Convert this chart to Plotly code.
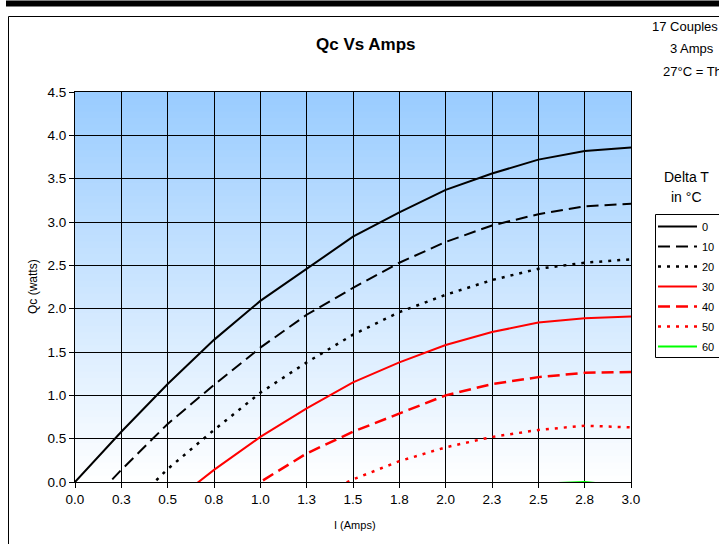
import plotly.graph_objects as go

# ---------------- data ----------------
amps = [0.0, 0.25, 0.5, 0.75, 1.0, 1.25, 1.5, 1.75, 2.0, 2.25, 2.5, 2.75, 3.0]
amp_tick_labels = ["0.0", "0.3", "0.5", "0.8", "1.0", "1.3", "1.5", "1.8",
                   "2.0", "2.3", "2.5", "2.8", "3.0"]

qc_dt0 = [0.00, 0.58, 1.13, 1.64, 2.09, 2.46, 2.83, 3.11, 3.37, 3.56, 3.72, 3.82, 3.86]
qc_dt10 = [-0.42, 0.14, 0.67, 1.12, 1.55, 1.93, 2.24, 2.53, 2.77, 2.96, 3.09, 3.18, 3.21]
qc_dt20 = [-0.95, -0.38, 0.15, 0.60, 1.03, 1.38, 1.70, 1.96, 2.16, 2.33, 2.46, 2.53, 2.57]
qc_dt30 = [-1.30, -0.75, -0.28, 0.14, 0.52, 0.85, 1.15, 1.38, 1.58, 1.73, 1.84, 1.89, 1.91]
qc_dt40 = [-1.90, -1.30, -0.80, -0.38, 0.00, 0.33, 0.58, 0.79, 1.00, 1.13, 1.21, 1.26, 1.27]
qc_dt50 = [-2.50, -1.90, -1.35, -0.90, -0.50, -0.22, 0.03, 0.24, 0.40, 0.52, 0.60, 0.65, 0.63]
qc_dt60 = [-3.10, -2.50, -1.95, -1.45, -1.05, -0.75, -0.50, -0.30, -0.15, -0.06, -0.02, 0.00, -0.05]

series_names = ["0", "10", "20", "30", "40", "50", "60"]
series_values = [qc_dt0, qc_dt10, qc_dt20, qc_dt30, qc_dt40, qc_dt50, qc_dt60]

# ---------------- layout geometry ----------------
W, H = 719, 544
L, R, T, B = 75, 88, 92, 62
PW, PH = W - L - R, H - T - B


def px(x):
    return (x - L) / PW


def py(y):
    return (H - B - y) / PH


FONT = "Liberation Sans, Arial, sans-serif"

styles = [
    dict(color="black", width=2, dash="solid"),
    dict(color="black", width=2, dash="12px,6px"),
    dict(color="black", width=2.5, dash="3px,6px"),
    dict(color="#FF0000", width=2, dash="solid"),
    dict(color="#FF0000", width=2.5, dash="12px,6px"),
    dict(color="#FF0000", width=2.5, dash="3px,6px"),
    dict(color="#00FF00", width=2, dash="solid"),
]

fig = go.Figure()
for name, vals, st in zip(series_names, series_values, styles):
    fig.add_trace(go.Scatter(x=amps, y=vals, mode="lines", name=name,
                             legendgroup=name, line=st, hoverinfo="x+y+name"))

# gradient background of plot area (light blue top -> white bottom)
shapes = []
n = 60
top = (153, 204, 255)
bot = (255, 255, 255)
for i in range(n):
    f = (i + 0.5) / n
    c = tuple(round(bot[k] + (top[k] - bot[k]) * f) for k in range(3))
    shapes.append(dict(type="rect", xref="x domain", yref="y domain",
                       x0=0, x1=1, y0=i / n, y1=(i + 1) / n + 0.002,
                       fillcolor="rgb(%d,%d,%d)" % c, line=dict(width=0),
                       layer="below"))

# outer chart-area border
shapes.append(dict(type="rect", xref="paper", yref="paper",
                   x0=px(8.5), x1=px(760), y0=py(600), y1=py(16.5),
                   line=dict(color="black", width=1), fillcolor="rgba(0,0,0,0)",
                   layer="above"))
# thick bar at top
shapes.append(dict(type="rect", xref="paper", yref="paper",
                   x0=px(6), x1=px(760), y0=py(6.5), y1=py(0.5),
                   line=dict(width=0), fillcolor="black", layer="above"))
# legend frame (extends past the right edge, as in the original)
shapes.append(dict(type="rect", xref="paper", yref="paper",
                   x0=px(655.5), x1=px(760), y0=py(357.5), y1=py(214.5),
                   line=dict(color="black", width=1), fillcolor="white",
                   layer="above"))

annotations = [
    dict(text="<b>Qc Vs Amps</b>", x=px(366), y=py(45), xref="paper", yref="paper",
         showarrow=False, xanchor="center", yanchor="middle",
         font=dict(size=17, color="black", family=FONT)),
    dict(text="17 Couples", x=px(650), y=py(27), xref="paper", yref="paper",
         showarrow=False, xanchor="left", yanchor="middle",
         font=dict(size=13, color="black", family=FONT)),
    dict(text="3 Amps", x=px(668), y=py(49), xref="paper", yref="paper",
         showarrow=False, xanchor="left", yanchor="middle",
         font=dict(size=13, color="black", family=FONT)),
    dict(text="27°C = Th", x=px(661), y=py(72), xref="paper", yref="paper",
         showarrow=False, xanchor="left", yanchor="middle",
         font=dict(size=13, color="black", family=FONT)),
    dict(text="Delta T", x=px(686), y=py(177), xref="paper", yref="paper",
         showarrow=False, xanchor="center", yanchor="middle",
         font=dict(size=14, color="black", family=FONT)),
    dict(text="in °C", x=px(686), y=py(197), xref="paper", yref="paper",
         showarrow=False, xanchor="center", yanchor="middle",
         font=dict(size=14, color="black", family=FONT)),
    dict(text="Qc (watts)", x=px(33), y=py(287), xref="paper", yref="paper",
         showarrow=False, xanchor="center", yanchor="middle", textangle=-90,
         font=dict(size=12, color="black", family=FONT)),
    dict(text="I (Amps)", x=px(355), y=py(525), xref="paper", yref="paper",
         showarrow=False, xanchor="center", yanchor="middle",
         font=dict(size=11, color="black", family=FONT)),
]

fig.update_layout(
    width=W, height=H,
    margin=dict(l=L, r=R, t=T, b=B, autoexpand=False),
    paper_bgcolor="white",
    plot_bgcolor="white",
    font=dict(family=FONT, color="black", size=13),
    shapes=shapes,
    annotations=annotations,
    showlegend=True,
    legend=dict(x=px(653), y=py(212), xanchor="left", yanchor="top",
                xref="paper", yref="paper",
                borderwidth=0, bgcolor="rgba(0,0,0,0)",
                font=dict(size=11, color="black", family=FONT),
                itemwidth=39, tracegroupgap=1),
)

fig.update_xaxes(range=[0, 3], tickvals=amps, ticktext=amp_tick_labels,
                 showgrid=True, gridcolor="black", gridwidth=1,
                 showline=True, linecolor="black", linewidth=1, mirror=True,
                 ticks="outside", ticklen=5, tickcolor="black",
                 tickfont=dict(size=13.5, color="black", family=FONT),
                 zeroline=False, fixedrange=True)
fig.update_yaxes(range=[0, 4.5], dtick=0.5, tick0=0, tickformat=".1f",
                 showgrid=True, gridcolor="black", gridwidth=1,
                 showline=True, linecolor="black", linewidth=1, mirror=True,
                 ticks="outside", ticklen=5, tickcolor="black",
                 tickfont=dict(size=13.5, color="black", family=FONT),
                 zeroline=False, fixedrange=True)

fig.write_html("out.html",
               config={"displayModeBar": False},
               post_script="document.body.style.margin='0px';"
                           "document.body.style.overflow='hidden';")
